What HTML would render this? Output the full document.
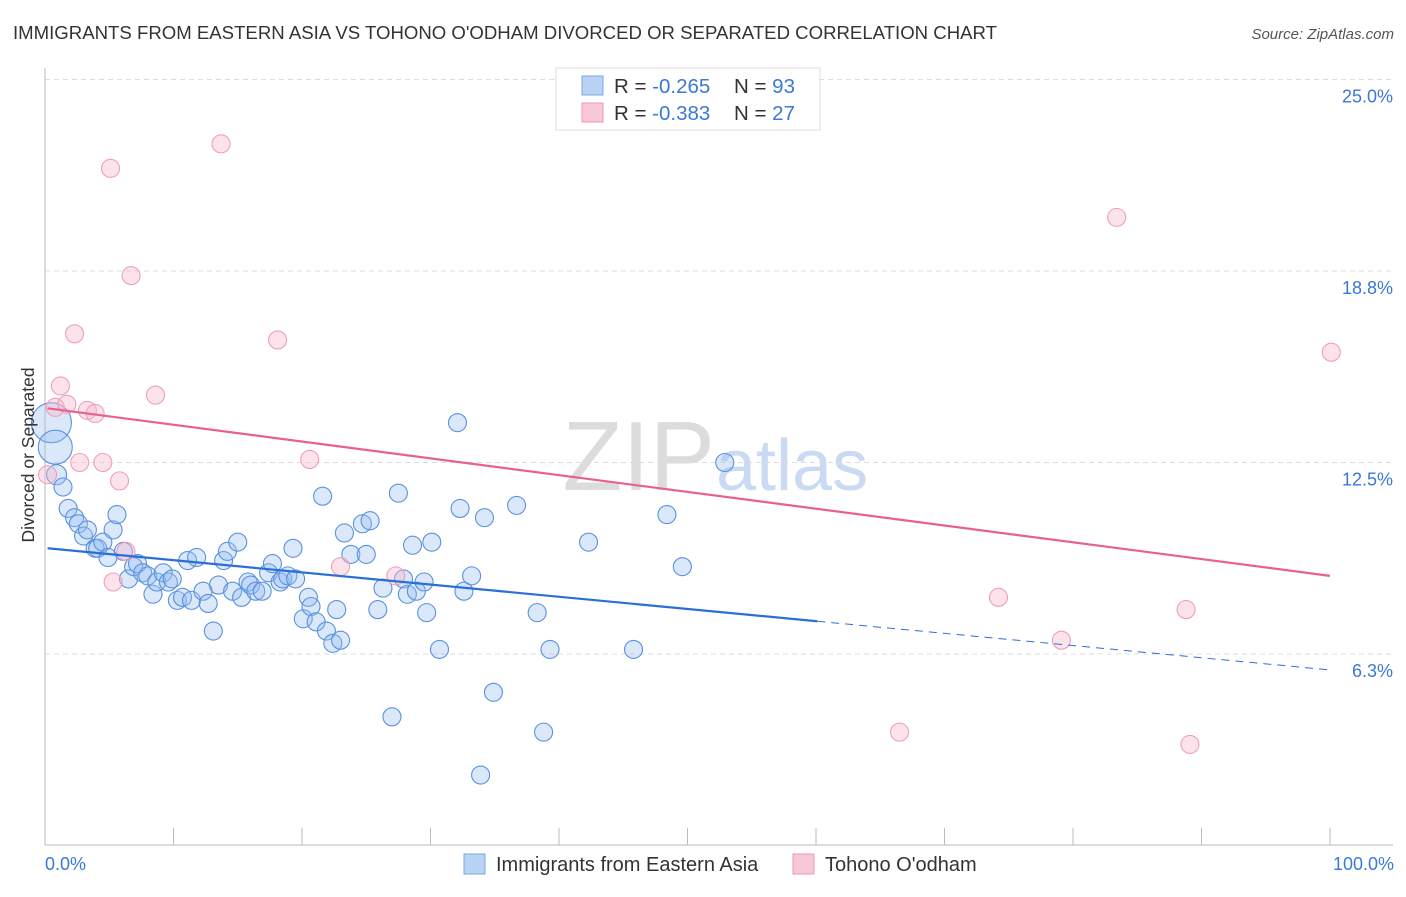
<!DOCTYPE html>
<html><head><meta charset="utf-8"><style>
body{margin:0;background:#fff;font-family:"Liberation Sans",sans-serif;}
svg text{font-family:"Liberation Sans",sans-serif;}
</style></head><body>
<svg id="chart" width="1406" height="892" xmlns="http://www.w3.org/2000/svg">
<text x="13" y="39" font-size="18.6" fill="#333">IMMIGRANTS FROM EASTERN ASIA VS TOHONO O'ODHAM DIVORCED OR SEPARATED CORRELATION CHART</text>
<text x="1394" y="39" font-size="15" fill="#555" font-style="italic" text-anchor="end">Source: ZipAtlas.com</text>
<text x="715" y="490" font-size="98" fill="#dcdcdc" text-anchor="end" font-family="Liberation Serif">ZIP</text>
<text x="716" y="490" font-size="72" fill="#c9daf2">atlas</text>
<g id="grid"></g>
<g id="axes"></g>
<g id="points"></g>
<g id="trends"></g>
<text transform="translate(34,455) rotate(-90)" font-size="17.5" fill="#333" text-anchor="middle">Divorced or Separated</text>
<text x="45" y="870" font-size="18" fill="#3b78d8">0.0%</text>
<text x="1394" y="870" font-size="18" fill="#3b78d8" text-anchor="end">100.0%</text>
<g>
<rect x="556" y="68" width="264" height="62" fill="#fff" stroke="#ddd"/>
<rect x="582" y="76" width="21" height="19" fill="#b9d3f5" stroke="#7aa7e6"/>
<rect x="582" y="103" width="21" height="19" fill="#f9c8d7" stroke="#ee97b3"/>
<text x="614" y="93" font-size="20.5" fill="#333">R = <tspan fill="#3b78d8">-0.265</tspan></text>
<text x="734" y="93" font-size="20.5" fill="#333">N = <tspan fill="#3b78d8">93</tspan></text>
<text x="614" y="120" font-size="20.5" fill="#333">R = <tspan fill="#3b78d8">-0.383</tspan></text>
<text x="734" y="120" font-size="20.5" fill="#333">N = <tspan fill="#3b78d8">27</tspan></text>
</g>
<g>
<rect x="464" y="854" width="21" height="20" fill="#b9d3f5" stroke="#7aa7e6"/>
<text x="496" y="871" font-size="20" fill="#333">Immigrants from Eastern Asia</text>
<rect x="793" y="854" width="21" height="20" fill="#f9c8d7" stroke="#ee97b3"/>
<text x="825" y="871" font-size="20" fill="#333">Tohono O'odham</text>
</g>
</svg>
<script>
const yTicks=[6.25,12.5,18.75,25];
const yTickLabels=["6.3%","12.5%","18.8%","25.0%"];
const xTicks=[10,20,30,40,50,60,70,80,90,100];
const blueX=[0.5,0.8,0.9,1.4,1.8,2.3,2.6,3.0,3.3,3.9,4.1,4.5,4.9,5.3,5.6,6.1,6.5,6.9,7.2,7.6,8.0,8.4,8.7,9.2,9.6,9.9,10.3,10.7,11.1,11.4,11.8,12.3,12.7,13.1,13.5,13.9,14.2,14.6,15.0,15.3,15.8,16.0,16.4,16.9,17.4,17.7,18.3,18.5,18.9,19.3,19.5,20.1,20.5,20.7,21.1,21.6,21.9,22.4,22.7,23.0,23.3,23.8,24.7,25.0,25.3,25.9,26.3,27.0,27.5,27.9,28.2,28.6,28.9,29.5,29.7,30.1,30.7,32.1,32.3,32.6,33.2,33.9,34.2,34.9,36.7,38.3,38.8,39.3,42.3,45.8,48.4,49.6,52.9];
const blueY=[13.8,13.0,12.1,11.7,11.0,10.7,10.5,10.1,10.3,9.7,9.7,9.9,9.4,10.3,10.8,9.6,8.7,9.1,9.2,8.9,8.8,8.2,8.6,8.9,8.6,8.7,8.0,8.1,9.3,8.0,9.4,8.3,7.9,7.0,8.5,9.3,9.6,8.3,9.9,8.1,8.6,8.5,8.3,8.3,8.9,9.2,8.6,8.7,8.8,9.7,8.7,7.4,8.1,7.8,7.3,11.4,7.0,6.6,7.7,6.7,10.2,9.5,10.5,9.5,10.6,7.7,8.4,4.2,11.5,8.7,8.2,9.8,8.3,8.6,7.6,9.9,6.4,13.8,11.0,8.3,8.8,2.3,10.7,5.0,11.1,7.6,3.7,6.4,9.9,6.4,10.8,9.1,12.5];
const blueR=[20,17,10];
const pinkX=[0.2,0.8,1.2,1.7,2.3,2.7,3.3,3.9,4.5,5.1,5.3,5.8,6.3,6.7,8.6,13.7,18.1,20.6,23.0,27.3,66.5,74.2,79.1,83.4,88.8,89.1,100.1];
const pinkY=[12.1,14.3,15.0,14.4,16.7,12.5,14.2,14.1,12.5,22.1,8.6,11.9,9.6,18.6,14.7,22.9,16.5,12.6,9.1,8.8,3.7,8.1,6.7,20.5,7.7,3.3,16.1];
const blueTrend=[9.71,5.73];
const pinkTrend=[14.28,8.8];
const blueSolidEnd=60.1;
const NS="http://www.w3.org/2000/svg";
const X0=45,X1=1330,Y0=845.5,YK=30.64;
function sx(v){return X0+(X1-X0)*v/100;}
function sy(v){return Y0-v*YK;}
function mk(tag,attrs,parent){const e=document.createElementNS(NS,tag);for(const k in attrs)e.setAttribute(k,attrs[k]);parent.appendChild(e);return e;}
const grid=document.getElementById('grid'),axes=document.getElementById('axes'),pts=document.getElementById('points'),tr=document.getElementById('trends');
yTicks.forEach((t,i)=>{
 const l=mk('line',{x1:45,x2:1393,y1:sy(t),y2:sy(t),stroke:'#dcdcdc','stroke-dasharray':'5,4'},grid);
 
 
 const tx=mk('text',{x:1393,y:sy(t)+23,'font-size':18,fill:'#3b78d8','text-anchor':'end'},grid);
 tx.textContent=yTickLabels[i];
 
 
});
const ya=mk('line',{x1:45,x2:45,y1:68,y2:845,stroke:'#bbb'},axes);


const xa=mk('line',{x1:45,x2:1393,y1:845,y2:845,stroke:'#bbb'},axes);


xTicks.forEach(t=>{
 const l=mk('line',{x1:sx(t),x2:sx(t),y1:828,y2:845,stroke:'#bbb'},axes);
 
 
});
blueX.forEach((v,i)=>{
 const c=mk('circle',{cx:sx(v),cy:sy(blueY[i]),r:blueR[i]||9,fill:'rgba(150,190,240,0.35)',stroke:'#5a91de','stroke-width':1.1},pts);
 
 
});
pinkX.forEach((v,i)=>{
 const c=mk('circle',{cx:sx(v),cy:sy(pinkY[i]),r:9,fill:'rgba(248,185,205,0.4)',stroke:'#ee9fb8','stroke-width':1.1},pts);
 
 
});
function ty(tv,x){return tv[0]+(tv[1]-tv[0])*x/100;}
const b1=mk('line',{x1:sx(0.2),y1:sy(ty(blueTrend,0.2)),x2:sx(blueSolidEnd),y2:sy(ty(blueTrend,blueSolidEnd)),stroke:'#2a6fd6','stroke-width':2.2},tr);


const b2=mk('line',{x1:sx(blueSolidEnd),y1:sy(ty(blueTrend,blueSolidEnd)),x2:sx(100),y2:sy(ty(blueTrend,100)),stroke:'#2a6fd6','stroke-width':1,'stroke-dasharray':'8,6'},tr);


const p1=mk('line',{x1:sx(0.2),y1:sy(ty(pinkTrend,0.2)),x2:sx(100),y2:sy(ty(pinkTrend,100)),stroke:'#e8618c','stroke-width':2.2},tr);


</script>
</body></html>
